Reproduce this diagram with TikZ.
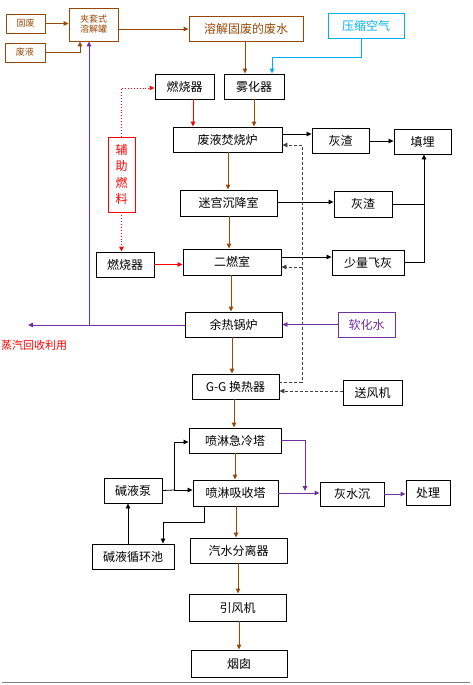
\documentclass[tikz,border=0pt]{standalone}
\usepackage{fontspec}
\setmainfont{Noto Sans CJK SC}
\usetikzlibrary{arrows.meta,calc}
\definecolor{brn}{HTML}{984806}
\definecolor{cyn}{HTML}{00B0F0}
\definecolor{pur}{HTML}{7030A0}
\definecolor{dgr}{HTML}{404040}
\definecolor{rd}{HTML}{FF0000}
\begin{document}
\begin{tikzpicture}[x=1pt,y=-1pt,
  box/.style={draw,line width=0.9pt,inner sep=0pt,font=\fontsize{12}{14}\selectfont},
  sbox/.style={box,draw=brn,text=brn,font=\fontsize{9}{10}\selectfont,align=center},
  bbox/.style={box,draw=brn,text=brn},
  cbox/.style={box,draw=cyn,text=cyn},
  pbox/.style={box,draw=pur,text=pur},
  rbox/.style={box,draw=rd,text=rd,align=center,font=\fontsize{12}{16.5}\selectfont},
  tip/.style={-{Triangle[length=5pt,width=4.5pt]}},
  barr/.style={tip,draw=brn,line width=0.9pt},
  karr/.style={tip,draw=black,line width=0.8pt},
  kln/.style={draw=black,line width=0.8pt},
  carr/.style={tip,draw=cyn,line width=0.9pt},
  parr/.style={tip,draw=pur,line width=0.9pt},
  pln/.style={draw=pur,line width=0.9pt},
  rarr/.style={tip,draw=rd,line width=0.9pt},
  rdot/.style={tip,draw=rd,line width=0.9pt,dotted},
  darr/.style={tip,draw=dgr,line width=0.8pt,dash pattern=on 3pt off 2pt},
  dln/.style={draw=dgr,line width=0.8pt,dash pattern=on 3pt off 2pt}
]
\useasboundingbox (0,0) rectangle (472,685);
% nodes
\node[sbox,minimum width=39pt,minimum height=19pt] (gufei) at (25.5,23.5) {固废};
\node[sbox,minimum width=40pt,minimum height=19pt] (feiye) at (25,52.5) {废液};
\node[sbox,minimum width=49pt,minimum height=33pt] (jtg) at (93.5,24.5) {夹套式\\溶解罐};
\node[bbox,minimum width=114pt,minimum height=25pt] (rjfs) at (246,28.5) {溶解固废的废水};
\node[cbox,minimum width=76pt,minimum height=25pt] (ysk) at (366,25.5) {压缩空气};
\node[box,minimum width=59pt,minimum height=25pt] (rsq1) at (184.5,86.5) {燃烧器};
\node[box,minimum width=60pt,minimum height=25pt] (whq) at (254,86.5) {雾化器};
\node[box,minimum width=109pt,minimum height=25pt] (fyfsl) at (227.5,139.5) {废液焚烧炉};
\node[box,minimum width=57pt,minimum height=25pt] (hz1) at (340.5,140.5) {灰渣};
\node[box,minimum width=57pt,minimum height=25pt] (tm) at (422.5,141.5) {填埋};
\node[rbox,minimum width=27pt,minimum height=75pt] (fzrl) at (121.5,174.5) {辅\\助\\燃\\料};
\node[box,minimum width=97pt,minimum height=26pt] (mgcjs) at (228.5,203) {迷宫沉降室};
\node[box,minimum width=58pt,minimum height=26pt] (hz2) at (363,204) {灰渣};
\node[box,minimum width=58pt,minimum height=25pt] (rsq2) at (125,264.5) {燃烧器};
\node[box,minimum width=98pt,minimum height=26pt] (erc) at (232,262) {二燃室};
\node[box,minimum width=72pt,minimum height=25pt] (slfh) at (368,262.5) {少量飞灰};
\node[box,minimum width=97pt,minimum height=25pt] (yrgl) at (233.5,324.5) {余热锅炉};
\node[pbox,minimum width=57pt,minimum height=25pt] (rhs) at (366.5,324.5) {软化水};
\node[text=rd,font=\fontsize{11}{13}\selectfont,anchor=west,inner sep=0pt] (zq) at (1,345) {蒸汽回收利用};
\node[box,minimum width=87pt,minimum height=25pt] (gg) at (235.5,386.5) {G-G 换热器};
\node[box,minimum width=59pt,minimum height=25pt] (sfj) at (372.5,392.5) {送风机};
\node[box,minimum width=92pt,minimum height=25pt] (plj) at (235,440.5) {喷淋急冷塔};
\node[box,minimum width=58pt,minimum height=25pt] (jyb) at (133,490.5) {碱液泵};
\node[box,minimum width=85pt,minimum height=26pt] (plx) at (235.5,493) {喷淋吸收塔};
\node[box,minimum width=64pt,minimum height=24pt] (hss) at (352,494) {灰水沉};
\node[box,minimum width=44pt,minimum height=25pt] (cl) at (428,492.5) {处理};
\node[box,minimum width=97pt,minimum height=25pt] (qsfl) at (238.5,550.5) {汽水分离器};
\node[box,minimum width=82pt,minimum height=25pt] (jyxhc) at (133,556.5) {碱液循环池};
\node[box,minimum width=97pt,minimum height=27pt] (yfj) at (237.5,607.5) {引风机};
\node[box,minimum width=96pt,minimum height=27pt] (yc) at (239,663.5) {烟囱};
% coordinates
\coordinate (pj) at (89,325);
\coordinate (steam) at (28,325);
\coordinate (d1) at (302,382);
\coordinate (d2) at (302,145);
\coordinate (d3) at (302,267);
\coordinate (j1) at (424,204);
\coordinate (p1) at (174,490);
\coordinate (c1) at (361,57);
% brown
\draw[barr] (gufei.east) -- (jtg.west |- gufei.east);
\draw[barr] (feiye.east) -| (80,0 |- jtg.south);
\draw[barr] (jtg.east |- 0,29) -- (rjfs.west |- 0,29);
\draw[barr] (245,0 |- rjfs.south) -- (245,0 |- whq.north);
\draw[barr] (whq.south) -- (whq.south |- fyfsl.north);
\draw[barr] (228,0 |- fyfsl.south) -- (228,0 |- mgcjs.north);
\draw[barr] (229,0 |- mgcjs.south) -- (229,0 |- erc.north);
\draw[barr] (231,0 |- erc.south) -- (231,0 |- yrgl.north);
\draw[barr] (232,0 |- yrgl.south) -- (232,0 |- gg.north);
\draw[barr] (234,0 |- gg.south) -- (234,0 |- plj.north);
\draw[barr] (235,0 |- plj.south) -- (235,0 |- plx.north);
\draw[barr] (236,0 |- plx.south) -- (236,0 |- qsfl.north);
\draw[barr] (238,0 |- qsfl.south) -- (238,0 |- yfj.north);
\draw[barr] (239,0 |- yfj.south) -- (239,0 |- yc.north);
% cyan
\draw[carr] (c1 |- ysk.south) -- (c1) -| (272,0 |- whq.north);
% red
\draw[rdot] (fzrl.north) -- (fzrl.north |- 0,88) -- (rsq1.west |- 0,88);
\draw[rdot] (fzrl.south) -- (fzrl.south |- rsq2.north);
\draw[rarr] (193,0 |- rsq1.south) -- (193,0 |- fyfsl.north);
\draw[rarr] (rsq2.east) -- (erc.west |- rsq2.east);
% black
\draw[karr] (fyfsl.east |- 0,134) -- (hz1.west |- 0,134);
\draw[karr] (hz1.east |- 0,141) -- (tm.west |- 0,141);
\draw[karr] (mgcjs.east |- 0,202) -- (hz2.west |- 0,202);
\draw[kln] (hz2.east) -- (j1);
\draw[karr] (slfh.east) -| (tm.south -| j1);
\draw[karr] (erc.east |- 0,257) -- (slfh.west |- 0,257);
\draw[kln] (jyb.east) -- (p1);
\draw[karr] (p1) |- (plj.west |- 0,442);
\draw[karr] (p1) -- (plx.west |- p1);
\draw[karr] (128,0 |- jyxhc.north) -- (128,0 |- jyb.south);
\draw[karr] (204,0 |- plx.south) -- (204,522) -| (163,0 |- jyxhc.north);
% dashed
\draw[dln] (gg.east |- d1) -- (d1) -- (d2);
\draw[darr] (d2) -- (fyfsl.east |- d2);
\draw[darr] (d3) -- (erc.east |- d3);
\draw[darr] (sfj.west |- 0,391) -- (gg.east |- 0,391);
% purple
\draw[parr] (rhs.west) -- (yrgl.east |- rhs.west);
\draw[parr] (yrgl.west |- pj) -- (steam);
\draw[parr] (pj) -- (pj |- jtg.south);
\draw[parr] (plj.east |- 0,440) -| (305,491);
\draw[parr] (plx.east |- 0,493) -- (hss.west |- 0,493);
\draw[parr] (hss.east) -- (cl.west |- hss.east);
% bottom rule
\draw[gray,line width=1pt] (2,682) -- (470,682);
\end{tikzpicture}
\end{document}
